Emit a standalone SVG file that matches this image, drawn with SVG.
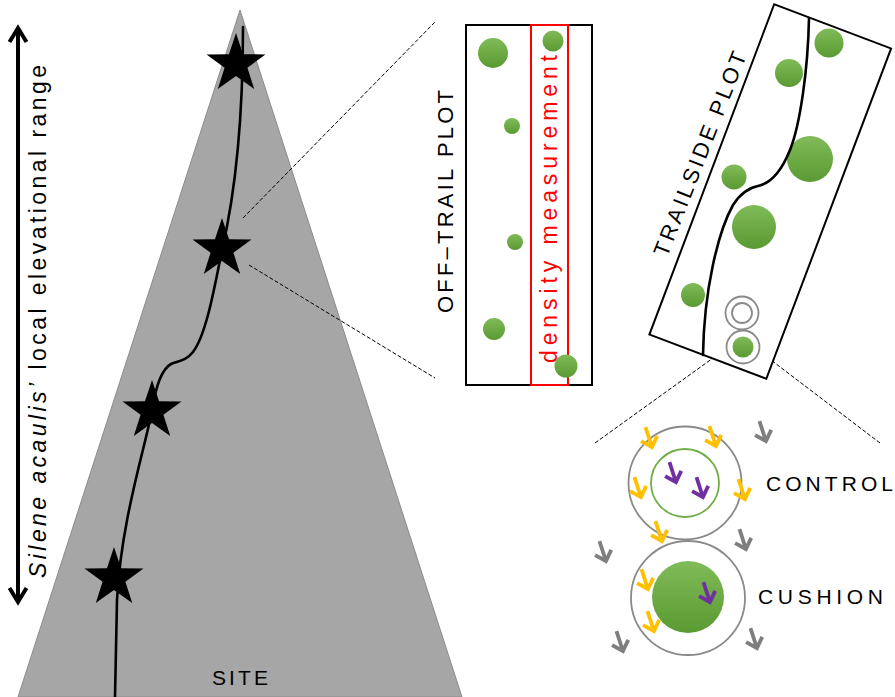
<svg xmlns="http://www.w3.org/2000/svg" width="895" height="697" viewBox="0 0 895 697">
  <style>
    .lbl { font-family: "Liberation Sans", Arial, sans-serif; font-size: 21px; fill: #000; }
    .dash { fill: none; stroke: #000; stroke-width: 1; stroke-dasharray: 4 2; }
    .trail { fill: none; stroke: #000; stroke-width: 2.6; stroke-linecap: round; }
    .plant { fill: url(#leaf); filter: url(#soft); }
    .ring { fill: none; stroke: #8a8a8a; stroke-width: 1.8; }
    .ay { stroke: #ffc000; }
    .ap { stroke: #7030a0; }
    .ag { stroke: #7f7f7f; }
  </style>
  <defs>
    <linearGradient id="leaf" x1="0" y1="0" x2="0" y2="1">
      <stop offset="0" stop-color="#80bb58"/>
      <stop offset="1" stop-color="#5a9a32"/>
    </linearGradient>
    <filter id="soft" x="-20%" y="-20%" width="140%" height="140%">
      <feGaussianBlur stdDeviation="0.6"/>
    </filter>
    <path id="star" d="M0,-31 L7.05,-9.71 L29.48,-9.58 L11.41,3.71 L18.22,25.08 L0,12 L-18.22,25.08 L-11.41,3.71 L-29.48,-9.58 L-7.05,-9.71 Z" fill="#000"/>
    <path id="arr" d="M0,-11.5 L0,9.5 M-8.5,0.5 L0,9.5 L8.5,0.5" fill="none" stroke-width="3.8" stroke-linejoin="miter"/>
  </defs>

  <rect width="895" height="697" fill="#fff"/>

  <!-- elevation axis with double arrow -->
  <g id="elevation-axis">
    <line x1="18" y1="30" x2="18" y2="599" stroke="#000" stroke-width="4"/>
    <polyline points="9.5,42 18,28 26.5,42" fill="none" stroke="#000" stroke-width="4"/>
    <polyline points="9.5,588 18,602 26.5,588" fill="none" stroke="#000" stroke-width="4"/>
    <text class="lbl" font-size="23" style="font-size:23px" transform="translate(46,578) rotate(-90)" textLength="513" lengthAdjust="spacing"><tspan font-style="italic">Silene acaulis’</tspan> local elevational range</text>
  </g>

  <!-- mountain site with trail and plot stars -->
  <g id="site">
    <polygon points="240,10 462,697 18,697" fill="#a6a6a6" stroke="#8c8c8c" stroke-width="1"/>
    <path class="trail" d="M243,27 C243,110 236,190 222,250 C214,290 206,335 193,352 C186,361 178,361 171,364 C162,369 156,385 152,410 C146,445 121,520 117,600 L115,697"/>
    <use href="#star" x="236" y="64"/>
    <use href="#star" x="222" y="249"/>
    <use href="#star" x="152" y="411"/>
    <use href="#star" x="114" y="578"/>
    <text class="lbl" x="212" y="685" textLength="56" lengthAdjust="spacing" fill="#111">SITE</text>
  </g>

  <!-- zoom connectors -->
  <g id="connectors">
    <line class="dash" x1="243" y1="218" x2="435" y2="22"/>
    <line class="dash" x1="249" y1="265" x2="435" y2="378"/>
    <line class="dash" x1="720" y1="353" x2="595" y2="443"/>
    <line class="dash" x1="767" y1="357" x2="880" y2="443"/>
  </g>

  <!-- off-trail plot -->
  <g id="offtrail-plot">
    <rect x="466" y="25" width="126" height="360" fill="#fff" stroke="#000" stroke-width="2"/>
    <rect x="531" y="25" width="37" height="360" fill="none" stroke="#ff0000" stroke-width="2"/>
    <text class="lbl" style="fill:#ff0000;font-size:23px" transform="translate(557,363) rotate(-90)" textLength="308" lengthAdjust="spacing">density measurement</text>
    <text class="lbl" style="font-size:22px" transform="translate(453,313) rotate(-90)" textLength="223" lengthAdjust="spacing">OFF–TRAIL PLOT</text>
    <circle class="plant" cx="493" cy="53" r="15"/>
    <circle class="plant" cx="553" cy="41" r="10.5"/>
    <circle class="plant" cx="512" cy="126" r="8"/>
    <circle class="plant" cx="515" cy="242" r="8"/>
    <circle class="plant" cx="494" cy="329" r="11"/>
    <circle class="plant" cx="566" cy="366" r="11.5"/>
  </g>

  <!-- trailside plot -->
  <g id="trailside-plot">
    <rect x="-62.5" y="-176.5" width="125" height="353" transform="translate(770.25,191.5) rotate(20.7)" fill="#fff" stroke="#000" stroke-width="2"/>
    <circle class="plant" cx="829" cy="43" r="14.5"/>
    <circle class="plant" cx="789" cy="73" r="14"/>
    <circle class="plant" cx="810" cy="159" r="23"/>
    <circle class="plant" cx="734" cy="177" r="12.5"/>
    <circle class="plant" cx="754" cy="227" r="22"/>
    <circle class="plant" cx="693" cy="295" r="12"/>
    <path class="trail" d="M809,18 C808,70 800,125 790,150 C782,170 772,183 758,186 C748,188 740,194 733,205 C718,232 704,290 703,355"/>
    <circle class="ring" cx="742" cy="313" r="16.5"/>
    <circle class="ring" cx="742" cy="313" r="10"/>
    <circle class="ring" cx="743" cy="347" r="16.5"/>
    <circle class="plant" cx="743" cy="347" r="10.5"/>
    <text class="lbl" style="font-size:22px" transform="translate(667,258) rotate(-68.5)" textLength="218" lengthAdjust="spacing">TRAILSIDE PLOT</text>
  </g>

  <!-- control plot detail -->
  <g id="control">
    <circle class="ring" cx="685" cy="483" r="56.5"/>
    <circle cx="685" cy="483" r="34" fill="none" stroke="#70ad47" stroke-width="1.8"/>
    <text class="lbl" x="766" y="491" textLength="127" lengthAdjust="spacing">CONTROL</text>
  </g>

  <!-- cushion plot detail -->
  <g id="cushion">
    <circle class="ring" cx="688" cy="598" r="57"/>
    <circle class="plant" cx="688" cy="597" r="36"/>
    <text class="lbl" x="758" y="604" textLength="125" lengthAdjust="spacing">CUSHION</text>
  </g>

  <!-- seed arrows -->
  <g id="seed-arrows">
    <use href="#arr" class="ay" transform="translate(649,438) rotate(-18)"/>
    <use href="#arr" class="ay" transform="translate(713,437) rotate(-18)"/>
    <use href="#arr" class="ay" transform="translate(638,488) rotate(-18)"/>
    <use href="#arr" class="ay" transform="translate(742,490) rotate(-18)"/>
    <use href="#arr" class="ay" transform="translate(659,532) rotate(-18)"/>
    <use href="#arr" class="ay" transform="translate(645,580) rotate(-18)"/>
    <use href="#arr" class="ay" transform="translate(651,622) rotate(-18)"/>
    <use href="#arr" class="ap" transform="translate(673,473) rotate(-18)"/>
    <use href="#arr" class="ap" transform="translate(700,488) rotate(-18)"/>
    <use href="#arr" class="ap" transform="translate(707,593) rotate(-18)"/>
    <use href="#arr" class="ag" transform="translate(763,432) rotate(-18)"/>
    <use href="#arr" class="ag" transform="translate(743,540) rotate(-18)"/>
    <use href="#arr" class="ag" transform="translate(603,552) rotate(-18)"/>
    <use href="#arr" class="ag" transform="translate(620,642) rotate(-18)"/>
    <use href="#arr" class="ag" transform="translate(754,639) rotate(-18)"/>
  </g>
</svg>
